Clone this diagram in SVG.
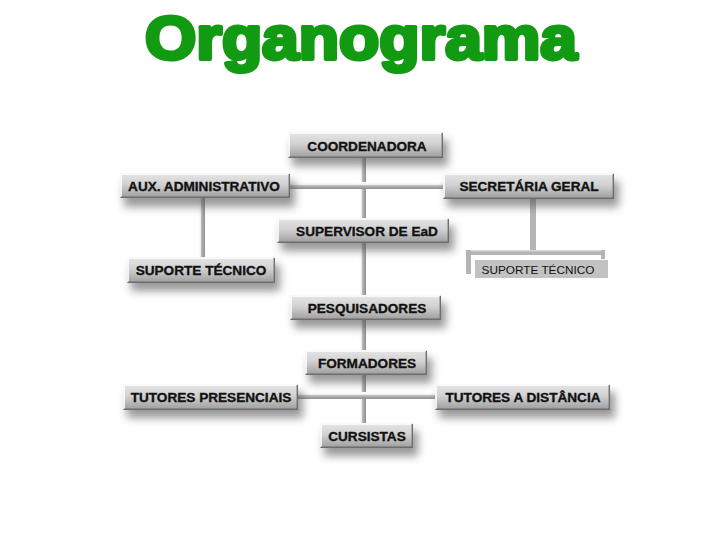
<svg xmlns="http://www.w3.org/2000/svg" width="720" height="540" viewBox="0 0 720 540">
<defs>
<linearGradient id="boxg" x1="0" y1="0" x2="0" y2="1">
<stop offset="0" stop-color="#e6e6e6"/>
<stop offset="0.45" stop-color="#d2d2d2"/>
<stop offset="1" stop-color="#9c9c9c"/>
</linearGradient>
<linearGradient id="vbeam" x1="0" y1="0" x2="1" y2="0">
<stop offset="0" stop-color="#ffffff"/>
<stop offset="0.35" stop-color="#f4f4f4"/>
<stop offset="0.45" stop-color="#bcbcbc"/>
<stop offset="1" stop-color="#8e8e8e"/>
</linearGradient>
<linearGradient id="hbeam" x1="0" y1="0" x2="0" y2="1">
<stop offset="0" stop-color="#ffffff"/>
<stop offset="0.35" stop-color="#f4f4f4"/>
<stop offset="0.45" stop-color="#c4c4c4"/>
<stop offset="1" stop-color="#8e8e8e"/>
</linearGradient>
<filter id="sh" x="-20%" y="-60%" width="140%" height="240%">
<feGaussianBlur stdDeviation="4"/>
</filter>
</defs>
<style>
.title{font-family:"Liberation Sans",Arial,sans-serif;font-weight:bold;font-size:61px;fill:#139a13;stroke:#139a13;stroke-width:4px;stroke-linejoin:round}
.box{fill:url(#boxg)}
.hl{fill:none;stroke:#ffffff;stroke-width:1.6}
.dk{fill:none;stroke:#6e6e6e;stroke-width:1.4}
.shd{fill:#555;opacity:0.6;filter:url(#sh)}
.lbl{font-family:"Liberation Sans",Arial,sans-serif;font-weight:bold;font-size:13.6px;fill:#111;stroke:#111;stroke-width:0.35px;text-anchor:middle}
.vb{fill:url(#vbeam)}
.hb{fill:url(#hbeam)}
.gr{fill:#b4b4b4}
.flat{fill:#c2c2c2}
.flbl{font-family:"Liberation Sans",Arial,sans-serif;font-size:11.8px;fill:#111;text-anchor:middle}
</style>
<rect width="720" height="540" fill="#ffffff"/>
<text class="title" x="361" y="59" text-anchor="middle" textLength="432" lengthAdjust="spacingAndGlyphs">Organograma</text>

<g id="connectors">
<rect class="vb" x="359" y="156" width="7" height="268"/>
<rect class="hb" x="288" y="182" width="156" height="7"/>
<rect class="hb" x="296" y="392" width="141" height="7"/>
<rect class="vb" x="198" y="196" width="7" height="62"/>
<rect class="gr" x="530" y="198" width="6" height="54"/>
<rect class="gr" x="466" y="250" width="139" height="5"/>
<rect x="466" y="250" width="139" height="1.5" fill="#d8d8d8"/>
<rect class="gr" x="466" y="250" width="5" height="24"/>
<rect class="gr" x="601" y="250" width="4" height="9"/>
</g>

<g id="n-coordenadora">
<rect class="shd" x="292" y="140" width="156" height="26"/>
<rect class="box" x="288" y="132" width="155" height="26"/>
<path class="hl" d="M289,157V133H442"/><path class="dk" d="M442.3,133V157.3H289"/>
<text class="lbl" x="367" y="150.5">COORDENADORA</text>
</g>

<g id="n-aux">
<rect class="shd" x="124" y="181" width="171" height="26"/>
<rect class="box" x="120" y="173" width="170" height="25"/>
<path class="hl" d="M121,197V174H289"/><path class="dk" d="M289.3,174V197.3H121"/>
<text class="lbl" x="204" y="191">AUX. ADMINISTRATIVO</text>
</g>

<g id="n-secretaria">
<rect class="shd" x="447" y="181" width="172" height="26"/>
<rect class="box" x="443" y="173" width="171" height="26"/>
<path class="hl" d="M444,198V174H613"/><path class="dk" d="M613.3,174V198.3H444"/>
<text class="lbl" x="529" y="191">SECRETÁRIA GERAL</text>
</g>

<g id="n-supervisor">
<rect class="shd" x="281" y="226" width="173" height="25"/>
<rect class="box" x="277" y="218" width="172" height="25"/>
<path class="hl" d="M278,242V219H448"/><path class="dk" d="M448.3,219V242.3H278"/>
<text class="lbl" x="367" y="236">SUPERVISOR DE EaD</text>
</g>

<g id="n-suporte-esq">
<rect class="shd" x="131" y="265" width="149" height="26"/>
<rect class="box" x="127" y="257" width="148" height="26"/>
<path class="hl" d="M128,282V258H274"/><path class="dk" d="M274.3,258V282.3H128"/>
<text class="lbl" x="201" y="275">SUPORTE TÉCNICO</text>
</g>

<g id="n-suporte-dir">
<rect class="flat" x="475" y="260" width="133" height="18"/>
<text class="flbl" x="538" y="273.5">SUPORTE TÉCNICO</text>
</g>

<g id="n-pesquisadores">
<rect class="shd" x="294" y="303" width="152" height="25"/>
<rect class="box" x="290" y="295" width="151" height="25"/>
<path class="hl" d="M291,319V296H440"/><path class="dk" d="M440.3,296V319.3H291"/>
<text class="lbl" x="367" y="313">PESQUISADORES</text>
</g>

<g id="n-formadores">
<rect class="shd" x="309" y="358" width="123" height="25"/>
<rect class="box" x="305" y="350" width="122" height="25"/>
<path class="hl" d="M306,374V351H426"/><path class="dk" d="M426.3,351V374.3H306"/>
<text class="lbl" x="367" y="368">FORMADORES</text>
</g>

<g id="n-tutores-pres">
<rect class="shd" x="127" y="392" width="176" height="26"/>
<rect class="box" x="123" y="384" width="175" height="26"/>
<path class="hl" d="M124,409V385H297"/><path class="dk" d="M297.3,385V409.3H124"/>
<text class="lbl" x="211" y="402">TUTORES PRESENCIAIS</text>
</g>

<g id="n-tutores-dist">
<rect class="shd" x="439" y="392" width="176" height="26"/>
<rect class="box" x="435" y="384" width="175" height="26"/>
<path class="hl" d="M436,409V385H609"/><path class="dk" d="M609.3,385V409.3H436"/>
<text class="lbl" x="523" y="402">TUTORES A DISTÂNCIA</text>
</g>

<g id="n-cursistas">
<rect class="shd" x="324" y="431" width="94" height="25"/>
<rect class="box" x="320" y="423" width="93" height="25"/>
<path class="hl" d="M321,447V424H412"/><path class="dk" d="M412.3,424V447.3H321"/>
<text class="lbl" x="367" y="441">CURSISTAS</text>
</g>
</svg>
